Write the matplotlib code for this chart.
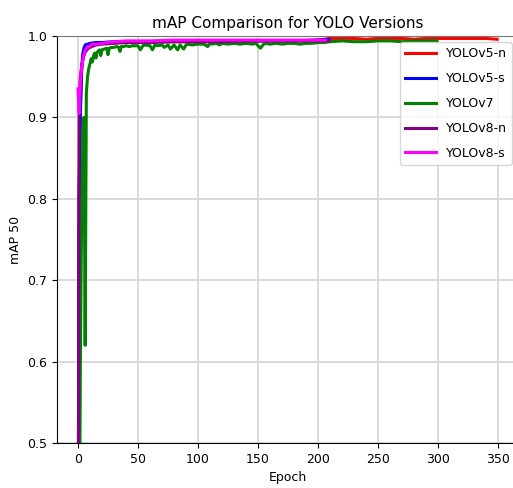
import matplotlib.pyplot as plt

# mAP@50 per epoch
ep_v5n = [0, 1, 2, 3, 4, 5, 6, 8, 10, 15, 20, 30, 40, 60, 80, 100, 120, 140, 160, 180,
          200, 210, 220, 230, 240, 250, 260, 270, 280, 290, 300, 310, 320, 330, 340, 349]
map_v5n = [0.30, 0.80, 0.91, 0.955, 0.972, 0.980, 0.984, 0.988, 0.990, 0.991, 0.992, 0.992,
           0.993, 0.993, 0.993, 0.993, 0.993, 0.994, 0.994, 0.994, 0.995, 0.997, 0.997, 0.997,
           0.996, 0.997, 0.997, 0.997, 0.996, 0.997, 0.997, 0.997, 0.997, 0.997, 0.997, 0.996]

ep_v5s = [0, 1, 2, 3, 4, 5, 6, 8, 10, 15, 20, 30, 40, 60, 80, 100, 120, 140, 160, 180, 200, 209]
map_v5s = [0.25, 0.81, 0.905, 0.96, 0.978, 0.985, 0.989, 0.990, 0.991, 0.992, 0.992, 0.993,
           0.993, 0.993, 0.994, 0.993, 0.994, 0.994, 0.994, 0.994, 0.995, 0.996]

ep_v7 = [0, 1, 2, 3, 4, 5, 6, 7, 8, 9, 10, 11, 12, 13, 14, 15, 16, 18, 19, 20, 22, 24, 25, 26,
         28, 30, 32, 34, 35, 36, 38, 40, 43, 45, 48, 50, 52, 54, 56, 60, 62, 64, 66, 70, 72,
         75, 77, 80, 83, 85, 88, 90, 92, 95, 100, 105, 108, 110, 112, 115, 118, 120, 125, 130,
         135, 140, 145, 148, 150, 152, 154, 156, 160, 165, 170, 175, 180, 185, 190, 195, 200,
         205, 210, 220, 230, 240, 250, 260, 270, 280, 290, 299]
map_v7 = [0.02, 0.30, 0.60, 0.77, 0.88, 0.90, 0.62, 0.93, 0.950, 0.960, 0.966, 0.972, 0.968,
          0.976, 0.979, 0.973, 0.980, 0.983, 0.976, 0.983, 0.984, 0.985, 0.977, 0.985, 0.986,
          0.986, 0.987, 0.986, 0.981, 0.987, 0.987, 0.988, 0.987, 0.988, 0.988, 0.988, 0.983,
          0.988, 0.989, 0.988, 0.983, 0.989, 0.988, 0.989, 0.986, 0.989, 0.984, 0.989, 0.983,
          0.989, 0.984, 0.989, 0.990, 0.989, 0.990, 0.990, 0.987, 0.991, 0.990, 0.991, 0.989,
          0.991, 0.990, 0.991, 0.990, 0.991, 0.990, 0.991, 0.988, 0.985, 0.989, 0.991, 0.990,
          0.991, 0.990, 0.991, 0.991, 0.990, 0.991, 0.991, 0.992, 0.992, 0.993, 0.994, 0.993,
          0.993, 0.994, 0.994, 0.993, 0.994, 0.994, 0.994]

ep_v8n = [0, 1, 2, 3, 4, 5, 6, 8, 10, 15, 20, 30, 40, 60, 80, 100, 120, 140, 160, 180, 200, 209]
map_v8n = [0.20, 0.92, 0.95, 0.962, 0.97, 0.976, 0.98, 0.984, 0.986, 0.989, 0.990, 0.991,
           0.992, 0.992, 0.993, 0.993, 0.993, 0.994, 0.994, 0.994, 0.994, 0.994]

ep_v8s = [0, 1, 2, 3, 4, 5, 6, 7, 8, 9, 10, 12, 15, 20, 25, 30, 40, 60, 80, 100, 120, 140,
          160, 180, 200, 206]
map_v8s = [0.935, 0.905, 0.945, 0.96, 0.97, 0.978, 0.982, 0.985, 0.987, 0.986, 0.988, 0.990,
           0.990, 0.991, 0.992, 0.993, 0.994, 0.994, 0.995, 0.995, 0.995, 0.995, 0.995, 0.995,
           0.995, 0.995]

series = [
    ("YOLOv5-n", ep_v5n, map_v5n, "red"),
    ("YOLOv5-s", ep_v5s, map_v5s, "blue"),
    ("YOLOv7", ep_v7, map_v7, "green"),
    ("YOLOv8-n", ep_v8n, map_v8n, "purple"),
    ("YOLOv8-s", ep_v8s, map_v8s, "magenta"),
]

plt.rcParams['font.family'] = ['DejaVu Sans']
fig = plt.figure(figsize=(5.13, 4.88), dpi=100)
ax = fig.add_axes([57 / 513, 45 / 488, 461 / 513, 407 / 488])

for name, ep, vals, col in series:
    ax.plot(ep, vals, color=col, linewidth=2.2, label=name)

ax.set_ylim(0.5, 1.0)
ax.set_title('mAP Comparison for YOLO Versions', fontsize=11)
ax.set_xlabel('Epoch', fontsize=9)
ax.set_ylabel('mAP 50', fontsize=9)
ax.tick_params(labelsize=9)
ax.grid(True, color='#d8d8d8', linewidth=1.3)
ax.spines['right'].set_visible(False)
ax.spines['top'].set_color('#777777')
ax.legend(loc='upper right', fontsize=9, handlelength=2.5, labelspacing=0.95)

fig.savefig('out.png', dpi=100)
